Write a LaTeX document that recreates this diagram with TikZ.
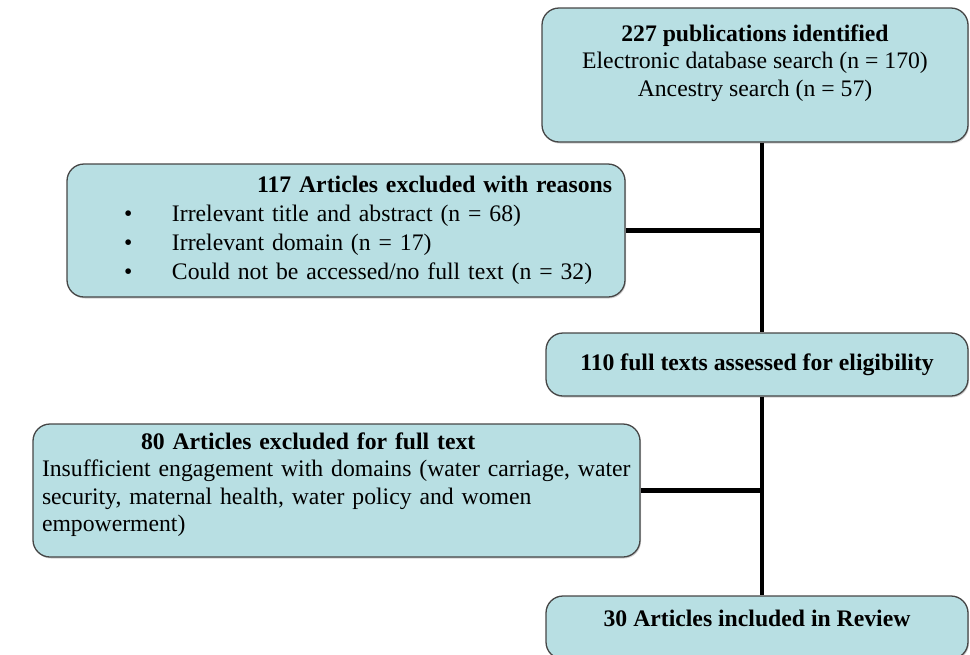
\documentclass[tikz,border=0pt]{standalone}
\usepackage{fontspec}
\setmainfont{Liberation Serif}
\usetikzlibrary{positioning,shadows}
\definecolor{boxfill}{RGB}{184,223,227}
\definecolor{boxline}{RGB}{70,70,70}
\newcommand{\exclitem}[1]{\hspace*{57pt}\makebox[48pt][l]{\textbullet}#1}

\begin{document}
\begin{tikzpicture}[x=1pt, y=-1pt,
    every node/.style={font=\fontsize{23.7}{27.5}\selectfont},
    flowbox/.style={draw=boxline, line width=1.3pt, fill=boxfill, rounded corners=17pt, inner sep=0pt,
      drop shadow={shadow xshift=1pt, shadow yshift=-1.5pt, opacity=0.35}},
    link/.style={line width=4.6pt, black}]
    \useasboundingbox (0,0) rectangle (970,654);
    \clip (0,0) rectangle (970,654);
    \coordinate (spine) at (762,0);
    % main column
    \node[flowbox, minimum width=426pt, minimum height=134pt, align=center] (ident) at (755,75)
      {\textbf{227 publications identified}\\ Electronic database search (n = 170)\\ Ancestry search (n = 57)\\[1.5pt]\mbox{}};
    \node[flowbox, minimum width=422pt, minimum height=63pt, align=center] (full) at (757,364.5)
      {\textbf{110 full texts assessed for eligibility}};
    \node[flowbox, minimum width=422pt, minimum height=63pt, align=center] (incl) at (757,627.5)
      {\textbf{30 Articles included in Review}\\[-8.5pt]\mbox{}};
    % exclusions
    \node[flowbox, minimum width=558pt, minimum height=133pt, text width=558pt, align=left] (excl1) at (346,230.5)
      {\hspace*{190pt}\textbf{117 Articles excluded with reasons}\\[1.5pt]
       \exclitem{Irrelevant title and abstract (n = 68)}\\[1.5pt]
       \exclitem{Irrelevant domain (n = 17)}\\[1.5pt]
       \exclitem{Could not be accessed/no full text (n = 32)}};
    \node[flowbox, minimum width=607pt, minimum height=133pt, inner xsep=9pt, text width=589pt, align=left] (excl2) at (336.5,490.5)
      {\hspace*{99pt}\textbf{80 Articles excluded for full text}\\
       \makebox[583pt][s]{Insufficient engagement with domains (water carriage, water}\\
       security, maternal health, water policy and women\\
       empowerment)\\[-10.5pt]\mbox{}};
    % connectors
    \draw[link] (ident.south -| spine) -- (full.north -| spine);
    \draw[link] (full.south -| spine) -- (incl.north -| spine);
    \draw[link] (excl1.east) -- (excl1.east -| spine);
    \draw[link] (excl2.east) -- (excl2.east -| spine);
\end{tikzpicture}
\end{document}
